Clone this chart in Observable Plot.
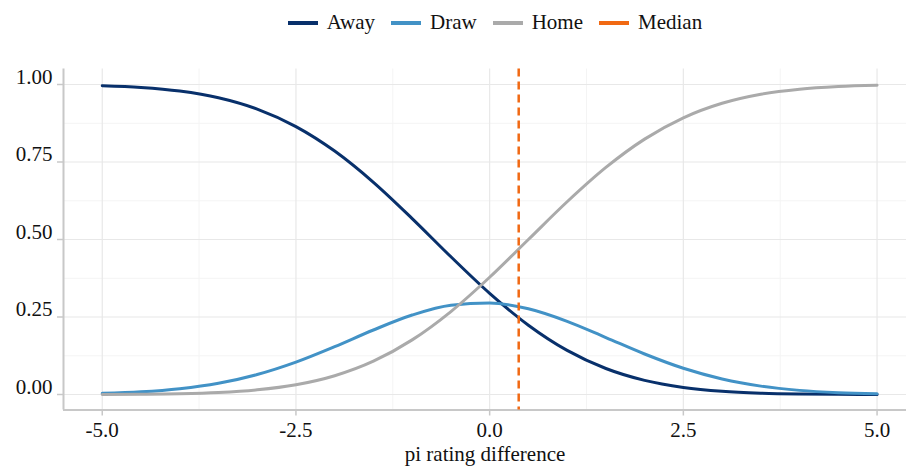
<!DOCTYPE html>
<html>
<head>
<meta charset="utf-8">
<script src="https://cdn.jsdelivr.net/npm/d3@7"></script>
<script src="https://cdn.jsdelivr.net/npm/@observablehq/plot@0.6"></script>
<style>
  html, body { margin: 0; padding: 0; background: #fff; }
  #legend { box-sizing: border-box; width: 906px; height: 45px; padding-left: 84px; display: flex; align-items: center; justify-content: center; font-family: "Times New Roman", Times, "Liberation Serif", "DejaVu Serif", "Noto Serif", serif; font-size: 21px; color: #111; }
  .item { display: flex; align-items: center; margin: 0 8px; }
  .sw { width: 30px; height: 4px; margin-right: 9px; }
</style>
</head>
<body>
<div id="legend"></div>
<div id="chart"></div>
<script>
const xs = [-5,-4.5,-4,-3.5,-3,-2.5,-2,-1.5,-1,-0.5,0,0.5,1,1.5,2,2.5,3,3.5,4,4.5,5];
const away = [0.9960,0.9904,0.9788,0.9573,0.9207,0.8643,0.7852,0.6844,0.5675,0.4443,0.3264,0.2236,0.1423,0.0838,0.0455,0.0228,0.0104,0.0044,0.0017,0.0006,0.0002];
const draw = [0.0037,0.0086,0.0186,0.0361,0.0643,0.1043,0.1542,0.2081,0.2563,0.2881,0.2953,0.2764,0.2360,0.1838,0.1307,0.0847,0.0502,0.0270,0.0133,0.0060,0.0024];
const home = [0.0003,0.0010,0.0026,0.0066,0.0150,0.0314,0.0606,0.1075,0.1762,0.2676,0.3783,0.5000,0.6217,0.7324,0.8238,0.8925,0.9394,0.9686,0.9850,0.9934,0.9974];
const median = 0.375;
const seriesNames = ["Away","Draw","Home","Median"];
const seriesColors = ["#08306b","#4292c6","#aaaaaa","#f16913"];
const xTicks = [-5,-2.5,0,2.5,5];
const xMinor = [-3.75,-1.25,1.25,3.75];
const yTicks = [0,0.25,0.5,0.75,1];
const yMinor = [0.125,0.375,0.625,0.875];
const xDomain = [-5.5, 5.38];
const yDomain = [-0.05, 1.05];

const data = [];
xs.forEach((x,i) => {
  data.push({x, y: away[i], s: "Away"});
  data.push({x, y: draw[i], s: "Draw"});
  data.push({x, y: home[i], s: "Home"});
});

// legend
const leg = document.getElementById("legend");
seriesNames.forEach((n,i) => {
  const it = document.createElement("div"); it.className = "item";
  const sw = document.createElement("div"); sw.className = "sw"; sw.style.background = seriesColors[i];
  const t = document.createElement("span"); t.textContent = n;
  it.appendChild(sw); it.appendChild(t); leg.appendChild(it);
});

const axisColor = "#c8c8c8";
const chart = Plot.plot({
  width: 906,
  height: 423,
  marginTop: 23.5,
  marginBottom: 58.5,
  marginLeft: 63,
  marginRight: 0,
  style: { fontFamily: "'Times New Roman', Times, 'Liberation Serif', 'DejaVu Serif', 'Noto Serif', serif", fontSize: "21px", color: "#111", background: "#fff" },
  x: { domain: xDomain },
  y: { domain: yDomain },
  color: { domain: seriesNames, range: seriesColors },
  marks: [
    Plot.gridX(xMinor, { stroke: "#f4f4f4", strokeOpacity: 1, strokeWidth: 1 }),
    Plot.gridY(yMinor, { stroke: "#f4f4f4", strokeOpacity: 1, strokeWidth: 1 }),
    Plot.gridX(xTicks, { stroke: "#e8e8e8", strokeOpacity: 1, strokeWidth: 1.2 }),
    Plot.gridY(yTicks, { stroke: "#e8e8e8", strokeOpacity: 1, strokeWidth: 1.2 }),
    Plot.ruleX([xDomain[0]], { stroke: axisColor, strokeWidth: 2 }),
    Plot.ruleY([yDomain[0]], { stroke: axisColor, strokeWidth: 2 }),
    Plot.axisX(xTicks, { tickFormat: d => d.toFixed(1), tickSize: 6, tickPadding: 6, stroke: axisColor, strokeWidth: 1.5, label: "pi rating difference", labelAnchor: "center", labelArrow: "none", labelOffset: 51 }),
    Plot.axisY(yTicks, { tickFormat: () => "", tickSize: 6, stroke: axisColor, strokeWidth: 1.5, label: null }),
    Plot.axisY(yTicks, { tickFormat: d => d.toFixed(2), tickSize: 0, tickPadding: 11, dy: -7.5, label: null }),
    Plot.line(data, { x: "x", y: "y", stroke: "s", strokeWidth: 3, curve: "monotone-x" }),
    Plot.ruleX([median], { stroke: seriesColors[3], strokeWidth: 2.5, strokeDasharray: "8,5" })
  ]
});
document.getElementById("chart").appendChild(chart);
</script>
</body>
</html>
